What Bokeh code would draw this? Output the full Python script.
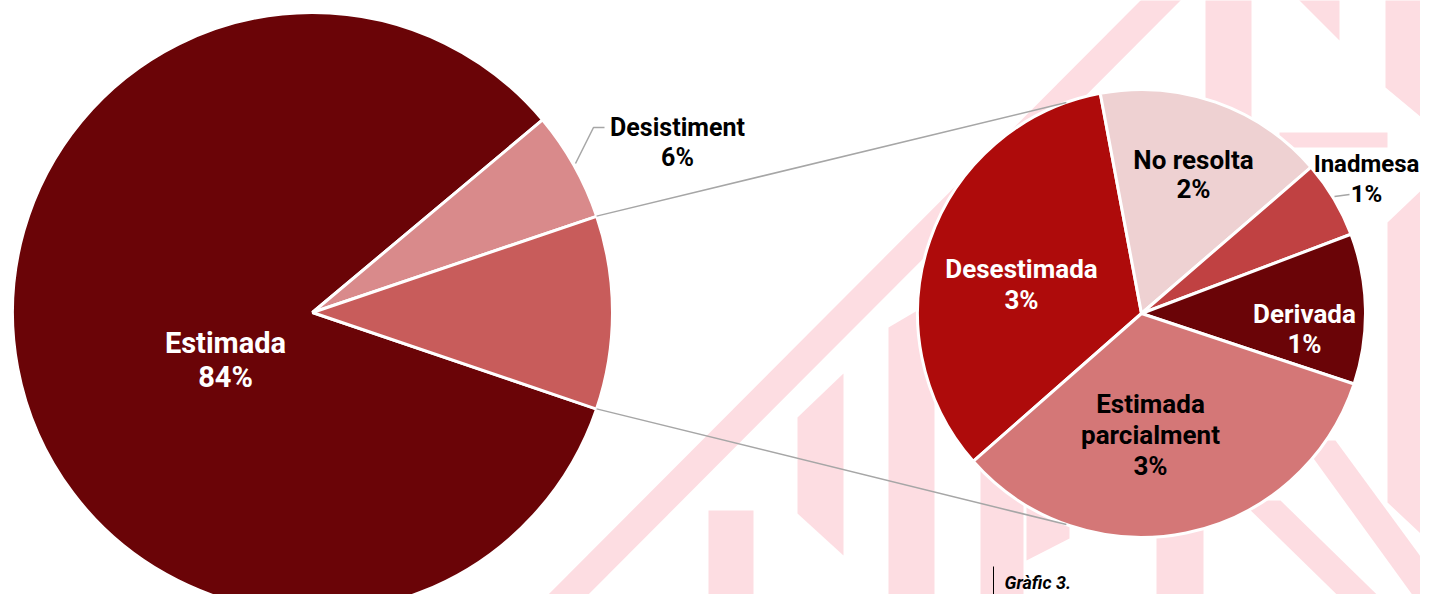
import math
from bokeh.plotting import figure
from bokeh.models import Range1d
from bokeh.core.properties import value
from bokeh.embed import file_html
from bokeh.resources import INLINE

# ---------------- data ----------------
categories = ["Estimada", "Desistiment", "Desestimada", "No resolta",
              "Inadmesa", "Derivada", "Estimada parcialment"]
values = [83.7, 5.9, 3.49, 1.73, 0.58, 1.13, 3.48]       # percent of total
main_items = ["Estimada", "Desistiment"]                   # shown in the big pie
second_items = ["Desestimada", "No resolta", "Inadmesa", "Derivada",
                "Estimada parcialment"]                    # broken out in the small pie
colors = {"Estimada": "#6A0407", "Desistiment": "#D98A8B", "Altres": "#C85C5B",
          "Desestimada": "#AE0B0B", "No resolta": "#EED1D2", "Inadmesa": "#C04142",
          "Derivada": "#6A0407", "Estimada parcialment": "#D47777"}
label_lines = {"Estimada parcialment": ["Estimada", "parcialment"]}
caption = "Gràfic 3."

# ---------------- layout (screen px, y down) ----------------
W, H = 1420, 594
MAIN_C, MAIN_R = (312, 312), 300
SEC_C, SEC_R = (1141, 313), 224
SEC_START_DEG = 221.3          # small pie starts here, goes clockwise
LINK_DEG = 109.6               # where connector lines meet the small pie
PINK = "#FDDDE2"

label_pos = {  # center x, first baseline y, line step, font px, colour
    "Estimada": (225, 342, 34, 29, "white"),
    "Desistiment": (677, 127, 30, 25, "black"),
    "Desestimada": (1021, 268, 31, 26, "white"),
    "No resolta": (1193, 159, 29, 26, "black"),
    "Inadmesa": (1366, 163, 30, 24, "black"),
    "Derivada": (1304, 313, 30, 26, "white"),
    "Estimada parcialment": (1150, 403, 31, 26, "black"),
}

# watermark shapes (screen coords)
watermark = [
    [(520, 622), (560, 622), (1190, -10), (1150, -10)],
    [(1205, -10), (1251, -10), (1251, 160), (1205, 160)],
    [(1297, -10), (1339, -10), (1339, 40), (1289, -10)],
    [(1385, -10), (1440, -10), (1440, 133), (1385, 87)],
    [(1279, 132), (1387, 132), (1387, 147), (1279, 147)],
    [(1387, 222), (1433, 178), (1433, 545), (1387, 502)],
    [(708, 510), (753, 510), (753, 622), (708, 622)],
    [(797, 417), (843, 373), (843, 555), (797, 513)],
    [(888, 327), (934, 300), (934, 622), (888, 622)],
    [(980, 440), (1023, 440), (1023, 622), (980, 622)],
    [(1026, 470), (1069, 470), (1069, 538), (1026, 560)],
    [(1156, 500), (1203, 500), (1203, 622), (1156, 622)],
    [(1240, 500), (1280, 500), (1405, 622), (1365, 622)],
    [(1300, 440), (1335, 440), (1445, 590), (1445, 640)],
]

def sy(y):
    return -y

p = figure(width=W, height=H, output_backend="svg", toolbar_location=None,
           x_range=Range1d(0, W), y_range=Range1d(-H, 0),
           min_border=0)
p.axis.visible = False
p.grid.visible = False
p.outline_line_color = None
p.background_fill_color = "white"
p.border_fill_color = "white"

# watermark
p.patches(xs=[[pt[0] for pt in poly] for poly in watermark],
          ys=[[sy(pt[1]) for pt in poly] for poly in watermark],
          fill_color=PINK, line_color=None)

val = dict(zip(categories, values))
sec_total = sum(val[c] for c in second_items)

# ---- main pie (clockwise) ----
half = sec_total / 100 * math.pi
main_names = main_items + ["Altres"]
main_vals = [val[c] for c in main_items] + [sec_total]
a = -half + 2 * math.pi
starts, ends, cols = [], [], []
for n, v in zip(main_names, main_vals):
    sweep = v / 100 * 2 * math.pi
    starts.append(a - sweep)
    ends.append(a)
    cols.append(colors[n])
    a -= sweep
p.wedge(x=[MAIN_C[0]] * 3, y=[sy(MAIN_C[1])] * 3, radius=MAIN_R,
        start_angle=starts, end_angle=ends, fill_color=cols,
        line_color="white", line_width=3)

# ---- secondary pie (clockwise) ----
a = math.radians(SEC_START_DEG)
s2, e2, c2 = [], [], []
for n in second_items:
    sweep = val[n] / sec_total * 2 * math.pi
    s2.append(a - sweep)
    e2.append(a)
    c2.append(colors[n])
    a -= sweep
p.wedge(x=[SEC_C[0]] * len(s2), y=[sy(SEC_C[1])] * len(s2), radius=SEC_R,
        start_angle=s2, end_angle=e2, fill_color=c2,
        line_color="white", line_width=3)

# ---- connector lines ----
for sgn in (1, -1):
    x1 = MAIN_C[0] + MAIN_R * math.cos(half)
    y1 = sy(MAIN_C[1]) + sgn * MAIN_R * math.sin(half)
    x2 = SEC_C[0] + SEC_R * math.cos(math.radians(LINK_DEG))
    y2 = sy(SEC_C[1]) + sgn * SEC_R * math.sin(math.radians(LINK_DEG))
    p.line([x1, x2], [y1, y2], line_color="#A6A6A6", line_width=1.5)

# leader lines
p.line([575, 593, 604], [sy(163), sy(127), sy(127)], line_color="#A6A6A6", line_width=1.5)
p.line([1334, 1349], [sy(196), sy(194)], line_color="#A6A6A6", line_width=1.5)

# ---- labels ----
FONT = value("Roboto")
for n in categories:
    cx, by, step, fs, col = label_pos[n]
    lines = label_lines.get(n, [n]) + [f"{round(val[n])}%"]
    p.text(x=[cx] * len(lines), y=[sy(by + i * step) for i in range(len(lines))],
           text=lines, text_align="center", text_baseline="alphabetic",
           text_color=col, text_font=FONT, text_font_size=f"{fs}px",
           text_font_style="bold")

# caption
p.line([993, 993], [sy(566), sy(594)], line_color="black", line_width=1)
p.text(x=[1004], y=[sy(582)], text=[caption], text_align="left",
       text_baseline="alphabetic", text_color="black", text_font=FONT,
       text_font_size="18px", text_font_style="bold italic")

open("out.html", "w").write(file_html(p, INLINE))
